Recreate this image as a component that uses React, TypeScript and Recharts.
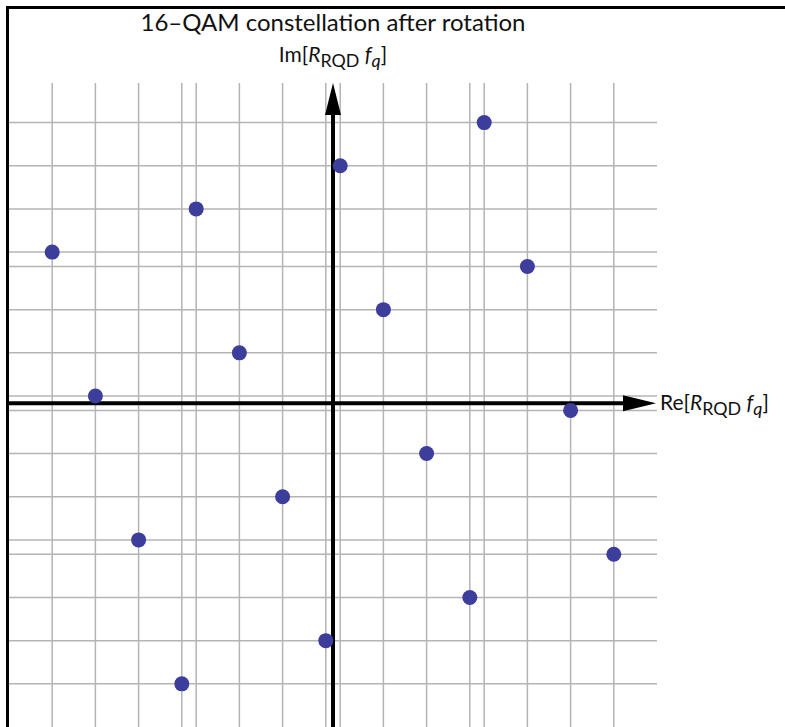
import React from "react"
import {
  ScatterChart,
  Scatter,
  XAxis,
  YAxis,
  CartesianGrid,
  ReferenceLine,
} from "recharts"

// rotated 16-QAM points
const reValues = [-3.9, -3.3, -2.7, -2.1, -1.9, -1.3, -0.7, -0.1, 0.1, 0.7, 1.3, 1.9, 2.1, 2.7, 3.3, 3.9]
const imValues = [2.1, 0.1, -1.9, -3.9, 2.7, 0.7, -1.3, -3.3, 3.3, 1.3, -0.7, -2.7, 3.9, 1.9, -0.1, -2.1]

// grid lines sit on every projection of a point
const gridRe = [...reValues].sort((a, b) => a - b)
const gridIm = [...imValues].sort((a, b) => a - b)

const points = reValues.map((re, i) => ({ re, im: imValues[i] }))

const FONT = "Lato, 'Open Sans', sans-serif"

function XArrowAxis(p: any) {
  const x0 = Math.min(p.x1, p.x2)
  const x1 = Math.max(p.x1, p.x2)
  const y = p.y1
  return (
    <g>
      <line x1={x0} y1={y} x2={x1 - 30} y2={y} stroke="#000" strokeWidth={4} />
      <polygon points={`${x1 - 1},${y} ${x1 - 34},${y - 8} ${x1 - 34},${y + 8}`} fill="#000" />
    </g>
  )
}

function YArrowAxis(p: any) {
  const y0 = Math.min(p.y1, p.y2)
  const y1 = Math.max(p.y1, p.y2)
  const x = p.x1
  return (
    <g>
      <line x1={x} y1={y0 + 30} x2={x} y2={y1} stroke="#000" strokeWidth={4} />
      <polygon points={`${x},${y0} ${x - 8},${y0 + 32} ${x + 8},${y0 + 32}`} fill="#000" />
    </g>
  )
}

function AxisName({ head }: { head: string }) {
  return (
    <span>
      {head}[<i>R</i>
      <span style={{ fontSize: "0.85em", position: "relative", top: "0.3em" }}>RQD</span>{" "}
      <i>f</i>
      <i style={{ fontSize: "0.85em", position: "relative", top: "0.3em" }}>q</i>]
    </span>
  )
}

const scaleOf = (axis: any) => (typeof axis?.scale === "function" ? axis.scale : axis?.scale?.map ?? ((v: number) => v))

export default function App() {
  return (
    <div
      style={{
        position: "absolute",
        left: 0,
        top: 0,
        width: 785,
        height: 727,
        overflow: "hidden",
        background: "#fff",
        fontFamily: FONT,
      }}
    >
      <div style={{ position: "absolute", left: 0, top: 0 }}>
        <ScatterChart
          width={785}
          height={727}
          margin={{ top: 83, right: 128, bottom: 0, left: 9 }}
        >
          <CartesianGrid
            stroke="#b4b4b4"
            strokeWidth={1.5}
            verticalCoordinatesGenerator={({ xAxis }: any) => gridRe.map((v) => scaleOf(xAxis)(v))}
            horizontalCoordinatesGenerator={({ yAxis }: any) => gridIm.map((v) => scaleOf(yAxis)(v))}
          />
          <XAxis
            type="number"
            dataKey="re"
            domain={[-4.5, 4.5]}
            ticks={gridRe}
            tick={false}
            tickLine={false}
            axisLine={false}
            height={0}
            allowDataOverflow
          />
          <YAxis
            type="number"
            dataKey="im"
            domain={[-4.5, 4.45]}
            ticks={gridIm}
            tick={false}
            tickLine={false}
            axisLine={false}
            width={0}
            allowDataOverflow
          />
          <Scatter
            data={points}
            fill="#3d3d9c"
            isAnimationActive={false}
            shape={(p: any) => <circle cx={p.cx} cy={p.cy} r={7.5} fill="#3d3d9c" />}
          />
          <ReferenceLine y={0} shape={XArrowAxis} />
          <ReferenceLine x={0} shape={YArrowAxis} />
        </ScatterChart>
      </div>
      <div
        style={{
          position: "absolute",
          left: 6,
          top: 6,
          width: 800,
          height: 800,
          borderLeft: "3px solid #000",
          borderTop: "3px solid #000",
        }}
      />
      <div
        style={{
          position: "absolute",
          left: 0,
          width: 666,
          top: 7,
          textAlign: "center",
          fontSize: 24,
          lineHeight: "30px",
          color: "#111",
        }}
      >
        16–QAM constellation after rotation
      </div>
      <div
        style={{
          position: "absolute",
          left: 0,
          width: 666,
          top: 42,
          textAlign: "center",
          fontSize: 21,
          lineHeight: "24px",
          color: "#111",
        }}
      >
        <AxisName head="Im" />
      </div>
      <div
        style={{
          position: "absolute",
          left: 660,
          top: 390,
          fontSize: 21,
          lineHeight: "24px",
          color: "#111",
          whiteSpace: "nowrap",
        }}
      >
        <AxisName head="Re" />
      </div>
    </div>
  )
}
